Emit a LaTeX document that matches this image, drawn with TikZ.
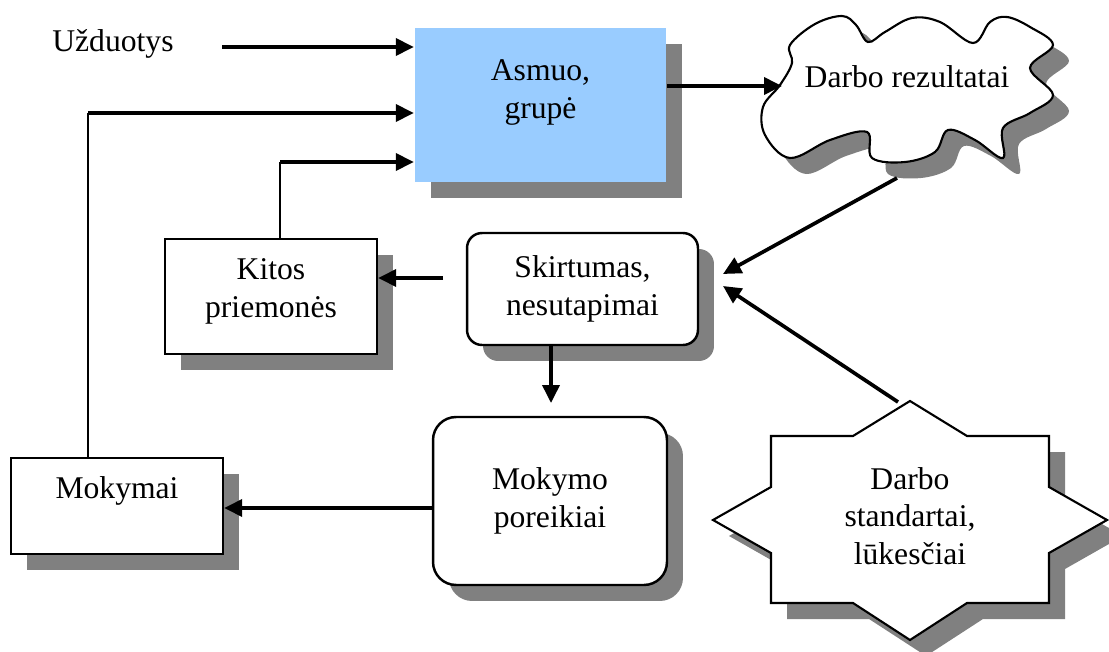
\documentclass[tikz,border=0pt]{standalone}
\usepackage{fontspec}
\setmainfont{Liberation Serif}
\usetikzlibrary{arrows.meta,shadows,positioning}
\definecolor{boxblue}{HTML}{99CCFF}
\definecolor{shadowgray}{HTML}{808080}

\begin{document}
\begin{tikzpicture}[x=0.02cm, y=-0.02cm,
		font=\fontsize{18}{21.5}\selectfont,
		every node/.style={align=center, inner sep=0pt},
		box/.style={draw, line width=1.4pt, fill=white,
			drop shadow={shadow xshift=0.32cm, shadow yshift=-0.32cm, fill=shadowgray, opacity=1}},
		arr/.style={line width=2.1pt, -{Triangle[length=0.36cm, width=0.34cm]}},
		link/.style={line width=1.1pt}]
	\useasboundingbox (0,0) rectangle (1109,652);
	%the boxes
	\node[box, draw=none, fill=boxblue, minimum width=5.02cm, minimum height=3.08cm, text depth=0.64cm] (asmuo) at (540.5,105) {Asmuo,\\grupė};
	\node[box, minimum width=4.24cm, minimum height=2.3cm, text depth=0.34cm] (kitos) at (271,296.5) {Kitos\\priemonės};
	\node[box, minimum width=4.24cm, minimum height=1.92cm, text depth=0.72cm] (mokymai) at (117,506) {Mokymai};
	\node[box, rounded corners=0.3cm, minimum width=4.62cm, minimum height=2.24cm] (skirt) at (582.5,289) {Skirtumas,\\nesutapimai};
	\node[box, rounded corners=0.46cm, minimum width=4.68cm, minimum height=3.36cm] (mokpor) at (550,501) {Mokymo\\poreikiai};
	\node[anchor=base west] (uzd) at (52,52) {Užduotys};
	%cloud and star, shadow first
	\foreach \d/\col/\ln in {16/shadowgray/none, 0/white/black}
		\filldraw[fill=\col, draw=\ln, line width=1.2pt, shift={(\d,\d)}] plot[smooth cycle, tension=0.6] coordinates {
			(790,45) (815,24) (842,16) (856,25) (868,42) (885,32) (912,18) (940,22) (973,43) (990,22)
			(1007,17) (1030,27) (1053,45) (1030,68) (1053,95) (1030,113) (1003,128) (1003,158) (975,140)
			(948,130) (935,152) (905,162) (872,158) (867,132) (830,140) (790,158) (765,135) (763,107)
			(780,85) (792,63)};
	\foreach \d/\col/\ln in {16/shadowgray/none, 0/white/black}
		\filldraw[fill=\col, draw=\ln, line width=1.2pt, shift={(\d,\d)}]
			(771,436) -- (853,436) -- (910,401) -- (967,436) -- (1049,436) -- (1049,487) -- (1107,520)
			-- (1049,553) -- (1049,603) -- (967,603) -- (910,640) -- (853,603) -- (771,603) -- (771,553)
			-- (713,520) -- (771,487) -- cycle;
	\node[anchor=base] (rez) at (907,88) {Darbo rezultatai};
	\node (std) at (910,516) {Darbo\\standartai,\\lūkesčiai};
	%connectors
	\coordinate (uzdarr) at (222,47);
	\coordinate (mkturn) at (88,113);
	\coordinate (ktturn) at (280,162);
	\coordinate (skleft) at (443,278);
	\coordinate (skdown) at (551,403);
	\coordinate (mpleft) at (436,508);
	\coordinate (rezin) at (782,86);
	\coordinate (rezout) at (897,178);
	\coordinate (skin1) at (723,274);
	\coordinate (stdtop) at (898,402);
	\coordinate (skin2) at (723,286);
	\draw[arr] (uzdarr) -- (uzdarr -| asmuo.west);
	\draw[link] (mokymai.north -| mkturn) -- (mkturn);
	\draw[arr] (mkturn) -- (mkturn -| asmuo.west);
	\draw[link] (kitos.north -| ktturn) -- (ktturn);
	\draw[arr] (ktturn) -- (ktturn -| asmuo.west);
	\draw[arr] (asmuo.east |- rezin) -- (rezin);
	\draw[arr] (rezout) -- (skin1);
	\draw[arr] (stdtop) -- (skin2);
	\draw[arr] (skleft) -- (skleft -| kitos.east);
	\draw[arr] (skirt.south -| skdown) -- (skdown);
	\draw[arr] (mokpor.west |- mpleft) -- (mpleft -| mokymai.east);
\end{tikzpicture}
\end{document}
